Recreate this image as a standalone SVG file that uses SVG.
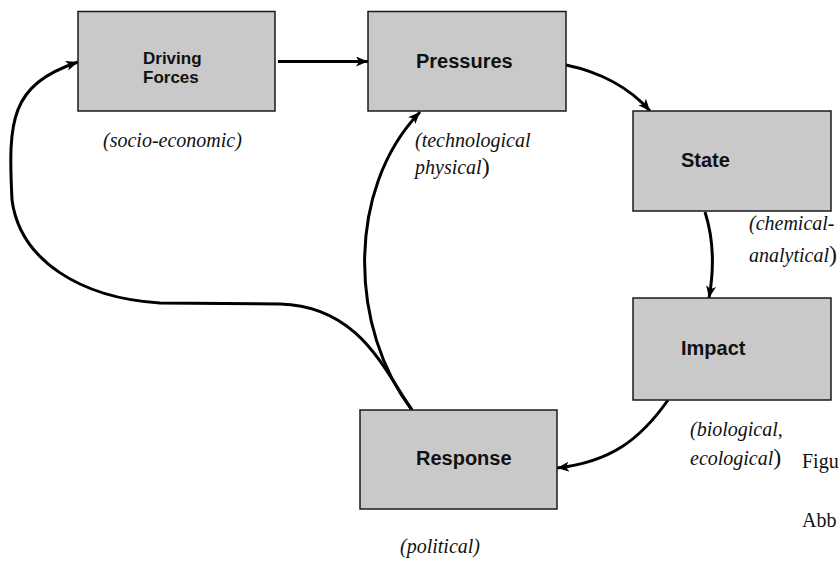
<svg xmlns="http://www.w3.org/2000/svg" width="840" height="561" viewBox="0 0 840 561">
<style>
.box{fill:#c9c9c9;stroke:#1a1a1a;stroke-width:1.5}
.lbl{font-family:"Liberation Sans",Arial,sans-serif;font-weight:bold;font-size:20px;fill:#111}
.sm{font-size:17px}
.it{font-family:"Liberation Serif","Times New Roman",serif;font-style:italic;font-size:20px;fill:#111}
.par{font-style:normal;font-size:24px}
.rm{font-family:"Liberation Serif","Times New Roman",serif;font-size:20px;fill:#111}
.con{fill:none;stroke:#000;stroke-width:3;marker-end:url(#ah)}
</style>
<defs>
<marker id="ah" markerUnits="userSpaceOnUse" markerWidth="14" markerHeight="12" refX="12" refY="5" orient="auto">
<path d="M0,0 L12,5 L0,10 L3,5 Z" fill="#000"/>
</marker>
</defs>
<rect width="840" height="561" fill="#fff"/>
<g id="connectors">
<path class="con" d="M278,61.5 L368,61.5"/>
<path class="con" d="M566,65 C600,72 630,88 650,111"/>
<path class="con" d="M705,212 C714,240 714,270 709,298"/>
<path class="con" d="M668,400 C640,440 610,462 557,468"/>
<path class="con" d="M412,410 C350,330 345,190 420,112"/>
<path class="con" d="M412,410 C385,372 360,306 280,304 L160,303 C80,298 20,260 12,200 C8,120 10,85 78,62"/>
</g>
<g id="driving">
<rect class="box" x="78" y="11.5" width="197" height="99.5"/>
<text class="lbl sm" x="143" y="64">Driving</text>
<text class="lbl sm" x="143" y="83">Forces</text>
</g>
<g id="pressures">
<rect class="box" x="368" y="11.5" width="198" height="99.5"/>
<text class="lbl" x="416" y="68">Pressures</text>
</g>
<g id="state">
<rect class="box" x="633" y="111" width="198" height="100"/>
<text class="lbl" x="681" y="167">State</text>
</g>
<g id="impact">
<rect class="box" x="633" y="298" width="198" height="102"/>
<text class="lbl" x="681" y="355">Impact</text>
</g>
<g id="response">
<rect class="box" x="360" y="410" width="197" height="99"/>
<text class="lbl" x="416" y="465">Response</text>
</g>
<g id="labels">
<text class="it" x="103" y="147">(socio-economic)</text>
<text class="it" x="415" y="147">(technological</text>
<text class="it" x="415" y="174">physical<tspan class="par">)</tspan></text>
<text class="it" x="749" y="230">(chemical-</text>
<text class="it" x="749" y="262">analytical<tspan class="par">)</tspan></text>
<text class="it" x="690" y="436">(biological,</text>
<text class="it" x="690" y="465">ecological<tspan class="par">)</tspan></text>
<text class="it" x="400" y="553">(political)</text>
<text class="rm" x="802" y="468">Figu</text>
<text class="rm" x="802" y="527">Abb</text>
</g>
</svg>
